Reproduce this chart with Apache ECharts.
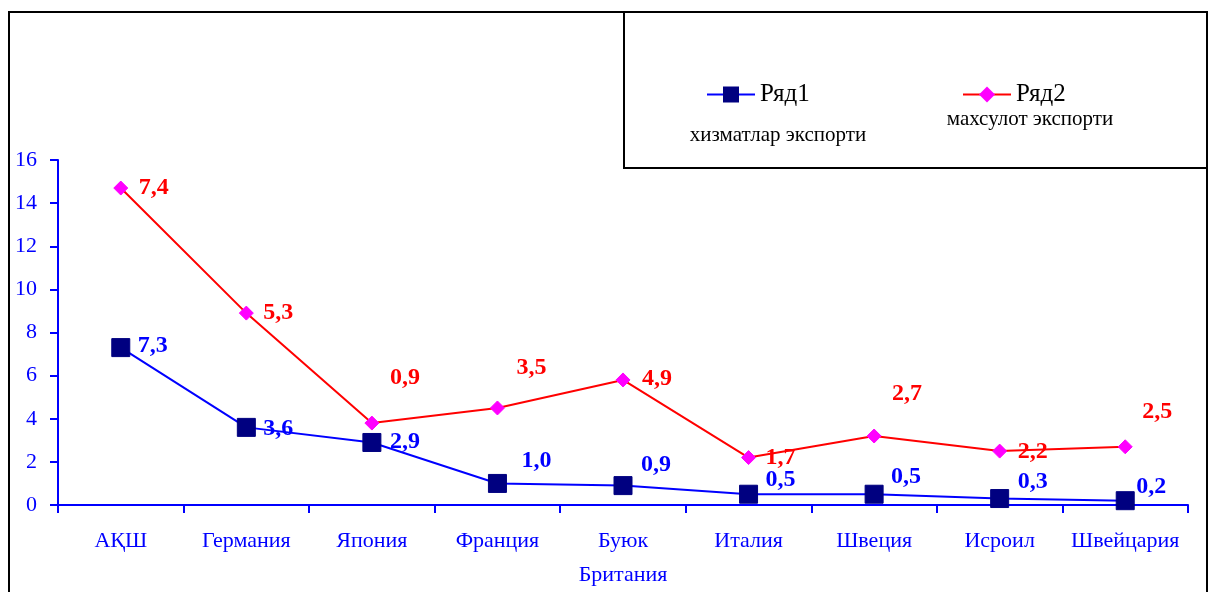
<!DOCTYPE html>
<html>
<head>
<meta charset="utf-8">
<script src="https://cdn.jsdelivr.net/npm/echarts@6/dist/echarts.min.js"></script>
<style>
html,body{margin:0;padding:0;background:#fff;}
#chart{width:1208px;height:592px;}
</style>
</head>
<body>
<div id="chart"></div>
<script>
// ---- data ----
const categories = ['АҚШ', 'Германия', 'Япония', 'Франция', 'Буюк\nБритания', 'Италия', 'Швеция', 'Исроил', 'Швейцария'];
const servicesExport = [7.3, 3.6, 2.9, 1.0, 0.9, 0.5, 0.5, 0.3, 0.2];   // Ряд1
const goodsExport   = [7.4, 5.3, 0.9, 3.5, 4.9, 1.7, 2.7, 2.2, 2.5];   // Ряд2 (stacked on Ряд1)
const seriesNames = ['Ряд1', 'Ряд2'];
const seriesNotes = ['хизматлар экспорти', 'махсулот экспорти'];
const yTicks = [0, 2, 4, 6, 8, 10, 12, 14, 16];

// ---- label placement (styling, relative to marker centre) ----
const labelOffsets1 = [[32,-2],[32,1],[33,-1],[39,-23],[33,-21],[32,-14],[32,-17],[33,-17],[26,-14]];
const labelOffsets2 = [[33,0],[32,0],[33,-45],[34,-40],[34,-1],[32,0],[33,-42],[33,1],[32,-35]];

const serif = '"Liberation Serif","Times New Roman",serif';
const fmt = p => p.value.toFixed(1).replace('.', ',');

function buildData(values, offsets) {
  return values.map((v, i) => ({ value: v, label: { offset: offsets[i] } }));
}

const chart = echarts.init(document.getElementById('chart'));
chart.setOption({
  animation: false,
  backgroundColor: '#fff',
  grid: { left: 58, right: 20, top: 160, bottom: 87 },
  xAxis: {
    type: 'category',
    data: categories,
    boundaryGap: true,
    axisLine: { lineStyle: { color: '#0000FF', width: 2 } },
    axisTick: { show: true, length: 8, inside: false, lineStyle: { color: '#0000FF', width: 2 } },
    axisLabel: { color: '#0000FF', fontFamily: serif, fontSize: 22, lineHeight: 34, margin: 19, interval: 0 },
    splitLine: { show: false }
  },
  yAxis: {
    type: 'value',
    min: yTicks[0],
    max: yTicks[yTicks.length - 1],
    interval: 2,
    axisLine: { show: true, lineStyle: { color: '#0000FF', width: 2 } },
    axisTick: { show: true, length: 8, lineStyle: { color: '#0000FF', width: 2 } },
    axisLabel: { color: '#0000FF', fontFamily: serif, fontSize: 22, margin: 21 },
    splitLine: { show: false }
  },
  legend: [
    {
      data: [seriesNames[0]], left: 701, top: 77, padding: 5, itemWidth: 48, itemHeight: 20, itemGap: 0,
      textStyle: { fontFamily: serif, fontSize: 25, color: '#000' }
    },
    {
      data: [seriesNames[1]], left: 957, top: 77, padding: 5, itemWidth: 48, itemHeight: 20, itemGap: 0,
      textStyle: { fontFamily: serif, fontSize: 25, color: '#000' }
    }
  ],
  graphic: [
    { type: 'polyline', shape: { points: [[9, 592], [9, 12], [1207, 12], [1207, 592]] },
      style: { stroke: '#000', lineWidth: 2, fill: null }, silent: true },
    { type: 'rect', shape: { x: 624, y: 12, width: 583, height: 156 },
      style: { stroke: '#000', lineWidth: 2, fill: null }, silent: true },
    { type: 'text', position: [778, 135], silent: true,
      style: { text: seriesNotes[0], fontFamily: serif, fontSize: 21, fill: '#000', textAlign: 'center', textVerticalAlign: 'middle' } },
    { type: 'text', position: [1030, 119], silent: true,
      style: { text: seriesNotes[1], fontFamily: serif, fontSize: 21, fill: '#000', textAlign: 'center', textVerticalAlign: 'middle' } }
  ],
  series: [
    {
      name: seriesNames[0],
      type: 'line',
      stack: 'total',
      data: buildData(servicesExport, labelOffsets1),
      symbol: 'rect',
      symbolSize: 18,
      lineStyle: { color: '#0000FF', width: 2 },
      itemStyle: { color: '#000080', borderColor: '#000080' },
      label: { show: true, position: 'inside', formatter: fmt, color: '#0000FF', fontFamily: serif, fontWeight: 'bold', fontSize: 24 },
      z: 3
    },
    {
      name: seriesNames[1],
      type: 'line',
      stack: 'total',
      data: buildData(goodsExport, labelOffsets2),
      symbol: 'diamond',
      symbolSize: 14,
      lineStyle: { color: '#FF0000', width: 2 },
      itemStyle: { color: '#FF00FF', borderColor: '#FF00FF' },
      label: { show: true, position: 'inside', formatter: fmt, color: '#FF0000', fontFamily: serif, fontWeight: 'bold', fontSize: 24 },
      z: 2
    }
  ]
});
</script>
</body>
</html>
